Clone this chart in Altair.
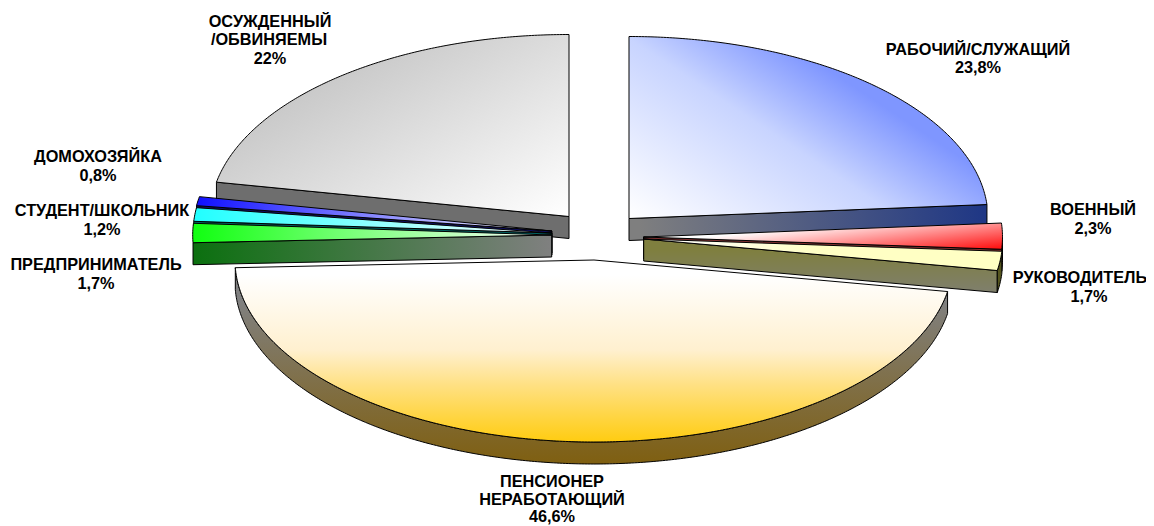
import math
import altair as alt
import pandas as pd

# --- chart values -------------------------------------------------------
NAMES = ["РАБОЧИЙ/СЛУЖАЩИЙ", "ВОЕННЫЙ", "РУКОВОДИТЕЛЬ", "ПЕНСИОНЕР НЕРАБОТАЮЩИЙ",
         "ПРЕДПРИНИМАТЕЛЬ", "СТУДЕНТ/ШКОЛЬНИК", "ДОМОХОЗЯЙКА", "ОСУЖДЕННЫЙ /ОБВИНЯЕМЫ"]
SHARES = [23.8, 2.3, 1.7, 46.6, 1.7, 1.2, 0.8, 22.0]

# --- pie layout -------------------------------------------------------
RX, RY, DEPTH = 359.0, 182.0, 22.0
APEX = {0: (629, 218.5), 1: (643.5, 237), 2: (643.7, 239), 3: (594, 260),
        4: (551.7, 235), 5: (552, 233), 6: (552, 231), 7: (569, 216.5)}

LABEL_LINES = [("ОСУЖДЕННЫЙ", 270, 22), ("/ОБВИНЯЕМЫ", 269, 40), ("22%", 270, 59),
               ("РАБОЧИЙ/СЛУЖАЩИЙ", 978, 50), ("23,8%", 978, 68),
               ("ВОЕННЫЙ", 1093, 210), ("2,3%", 1093, 229),
               ("РУКОВОДИТЕЛЬ", 1080, 278), ("1,7%", 1089, 297),
               ("ДОМОХОЗЯЙКА", 98, 157), ("0,8%", 98, 176),
               ("СТУДЕНТ/ШКОЛЬНИК", 102, 211), ("1,2%", 102, 230),
               ("ПРЕДПРИНИМАТЕЛЬ", 96, 265), ("1,7%", 96, 284),
               ("ПЕНСИОНЕР", 552, 482), ("НЕРАБОТАЮЩИЙ", 552, 500), ("46,6%", 552, 517)]

total = sum(SHARES)
edges = [0.0]
for s in SHARES:
    edges.append(edges[-1] + s / total * 360.0)


def pt(i, t, dy=0.0):
    cx, cy = APEX[i]
    r = math.radians(t)
    return (cx + RX * math.sin(r), cy - RY * math.cos(r) + dy)


def arc(i, t0, t1, dy=0.0):
    n = max(2, int(abs(t1 - t0) * 2))
    return [pt(i, t0 + (t1 - t0) * k / n, dy) for k in range(n + 1)]


def grad(poly, p0, p1, stops):
    xs, ys = [p[0] for p in poly], [p[1] for p in poly]
    bx, by = min(xs), min(ys)
    w, h = max(xs) - bx or 1, max(ys) - by or 1
    dx, dy = p1[0] - p0[0], p1[1] - p0[1]
    d2 = dx * dx + dy * dy
    a, b = w * dx / d2, h * dy / d2
    c = ((bx - p0[0]) * dx + (by - p0[1]) * dy) / d2
    n2 = a * a + b * b
    u0, v0 = -c * a / n2, -c * b / n2
    return {"gradient": "linear", "x1": u0, "y1": v0, "x2": u0 + a / n2, "y2": v0 + b / n2,
            "stops": [{"offset": o, "color": col} for o, col in stops]}


def shape(poly, fill, sw=1.0):
    ring = [list(p) for p in poly] + [list(poly[0])]
    feat = {"type": "Feature", "properties": {},
            "geometry": {"type": "Polygon", "coordinates": [ring]}}
    return (alt.Chart(alt.Data(values=[feat]))
            .mark_geoshape(fill=fill, stroke="#000000", strokeWidth=sw, strokeJoin="round")
            .project(type="identity", scale=1, translate=[-8, -8]))


def top(i):
    return [APEX[i]] + arc(i, edges[i], edges[i + 1])


def wall(i, t):
    a = APEX[i]
    e = pt(i, t)
    return [a, e, (e[0], e[1] + DEPTH), (a[0], a[1] + DEPTH)]


def rim(i, t0, t1):
    return arc(i, t0, t1) + arc(i, t1, t0, DEPTH)


layers = []

# convict
i = 7
w = wall(i, edges[7])
layers.append(shape(w, "#6e6e6e"))
p = top(i)
layers.append(shape(p, grad(p, (569, 216), (444, 3), [(0, "#ffffff"), (1, "#c8c8c8")])))

# small left slices, back to front
for i, dark, vivid in [(6, "#101060", "#1010ff"), (5, "#006060", "#20ffff")]:
    layers.append(shape(wall(i, edges[i]), dark))
    p = top(i)
    layers.append(shape(p, grad(p, (pt(i, edges[i])[0], 0), (APEX[i][0], 0),
                                [(0, vivid), (1, "#ffffff")])))
i = 4
w = wall(i, edges[4])
layers.append(shape(w, grad(w, (192, 0), (552, 0), [(0, "#0b700f"), (1, "#808080")])))
p = top(i)
layers.append(shape(p, grad(p, (192, 0), (552, 0), [(0, "#10ff10"), (1, "#ffffff")])))

# worker
i = 0
w = wall(i, edges[1])
layers.append(shape(w, grad(w, (985, 220), (640, 240), [(0, "#1f3785"), (1, "#7f7f7f")])))
p = top(i)
layers.append(shape(p, grad(p, (629, 218), (758, 23),
                            [(0, "#ffffff"), (0.64, "#c8d4ff"), (1, "#7f96ff")])))

# military
i = 1
layers.append(shape(wall(i, edges[2]), "#803030"))
layers.append(shape(rim(i, 90, edges[2]), "#7a0000"))
p = top(i)
layers.append(shape(p, grad(p, (700, 238), (705.4, 283.4), [(0, "#ffffff"), (1, "#ff1010")])))

# manager
i = 2
w = wall(i, edges[3])
layers.append(shape(w, grad(w, (820, 250), (820, 290), [(0, "#7f7f3f"), (1, "#7f7f6a")])))
layers.append(shape(rim(i, edges[2], edges[3]), "#55551f"))
p = top(i)
layers.append(shape(p, grad(p, (660, 240), (820, 250), [(0, "#ffffff"), (1, "#ffffc4")])))

# pensioner
i = 3
r = rim(i, edges[3], edges[4])
layers.append(shape(r, grad(r, (590, 300), (590, 465), [(0, "#808080"), (1, "#7f5f10")])))
p = top(i)
layers.append(shape(p, grad(p, (590, 275), (590, 442),
                            [(0, "#ffffff"), (0.45, "#fff0cf"), (0.65, "#ffe186"),
                             (0.85, "#ffd542"), (1, "#ffcc11")])))

labels = pd.DataFrame(LABEL_LINES, columns=["t", "x", "y"])
text = (alt.Chart(labels)
        .mark_text(font="Liberation Sans", fontWeight="bold", fontSize=16.3,
                   align="center", baseline="middle", color="#000000")
        .encode(longitude="x:Q", latitude="y:Q", text="t:N")
        .project(type="identity", scale=1, translate=[-8, -8]))

chart = (alt.layer(*layers, text)
         .properties(width=1138, height=518, padding=0, background="#ffffff")
         .configure_view(stroke=None))

chart.save("out.html", embed_options={"renderer": "svg", "actions": False})
